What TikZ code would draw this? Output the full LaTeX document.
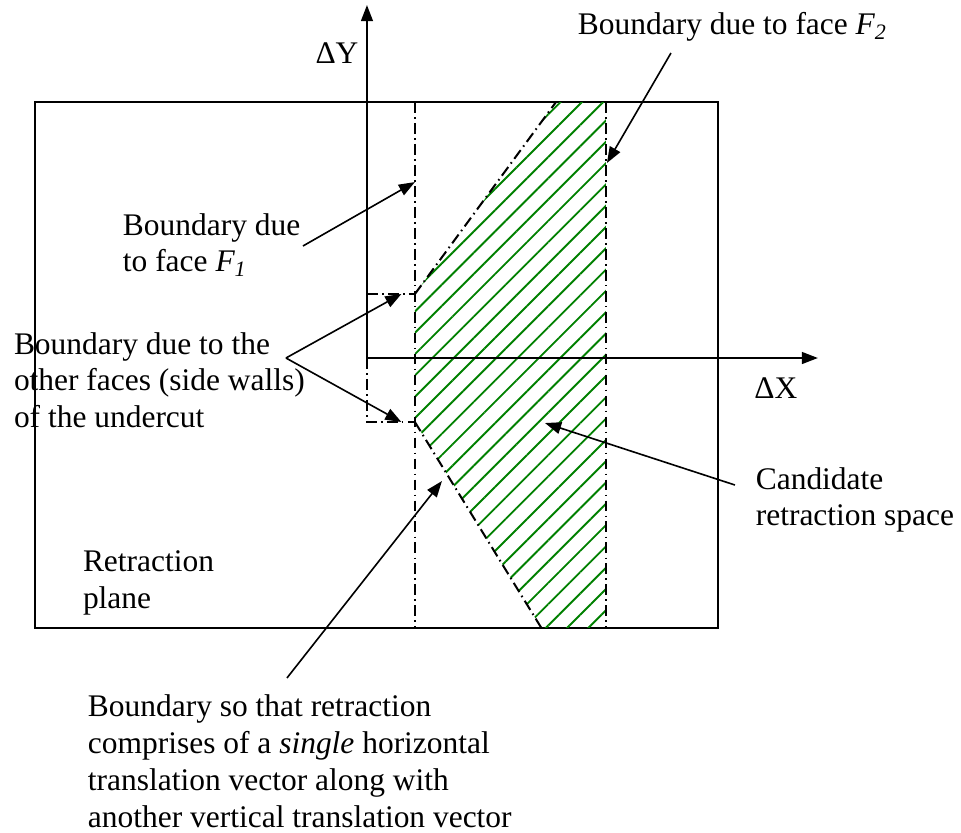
\documentclass[tikz,border=0pt]{standalone}
\usepackage{fontspec}
\setmainfont{Liberation Serif}
\usepackage{tikz}
\usetikzlibrary{arrows.meta,patterns.meta}
\definecolor{hatchgreen}{RGB}{0,128,0}
\tikzset{
	txt/.style={anchor=west, align=left, inner sep=0pt},
	ptr/.style={-{Triangle[length=6pt,width=4.4pt]}, line width=0.6pt},
	dashdot/.style={line width=0.75pt, dash pattern=on 4pt off 1.6pt on 0.6pt off 1.6pt},
	hatch/.style={pattern={Lines[angle=45,distance=5.6pt,line width=0.7pt]}, pattern color=hatchgreen}
}

\begin{document}
\begin{tikzpicture}[>=Stealth, font=\fontsize{11.7}{13.7}\selectfont, line width=0.75pt]
		\useasboundingbox (-4.797,-6.209) rectangle (7.765,4.680);
		% retraction plane
		\draw (-4.34,-3.529) rectangle (4.588,3.346);
		\coordinate (o) at (0,0);
		\coordinate (up) at (0.627,0.837);
		\coordinate (dn) at (0.627,-0.837);
		\coordinate (ut) at (2.471,3.346);
		\coordinate (db) at (2.28,-3.529);
		% candidate region
		\fill[hatch] (up) -- (ut) -- (3.124,3.346) -- (3.124,-3.529) -- (db) -- (dn) -- cycle;
		% boundaries
		\draw[dashdot] (0.627,3.346) -- (0.627,-3.529);
		\draw[dashdot] (3.124,3.346) -- (3.124,-3.529);
		\draw[dashdot] (up) -- (ut);
		\draw[dashdot] (dn) -- (db);
		\draw[dashdot] (0,0.837) -- (up);
		\draw[dashdot] (o) -- (0,-0.837) -- (dn);
		% axes
		\draw[ptr, line width=0.75pt] (o) -- (0,4.614);
		\draw[ptr, line width=0.75pt] (o) -- (5.895,0);
		\node (dy) at (-0.392,3.987) {ΔY};
		\node (dx) at (5.346,-0.392) {ΔX};
		% labels
		\node[txt] (f2) at (2.745,4.327) {Boundary due to face \textit{F\textsubscript{2}}};
		\node[txt] (f1) at (-3.203,1.477) {Boundary due\\to face \textit{F\textsubscript{1}}};
		\node[txt] (side) at (-4.627,-0.29) {Boundary due to the\\other faces (side walls)\\of the undercut};
		\node[txt] (cand) at (5.07,-1.856) {Candidate\\retraction space};
		\node[txt] (plane) at (-3.725,-2.94) {Retraction\\plane};
		\node[txt] (single) at (-3.66,-5.27) {Boundary so that retraction\\comprises of a \textit{single} horizontal\\translation vector along with\\another vertical translation vector};
		% pointers
		\coordinate (f2s) at (3.974,3.987);
		\coordinate (f2e) at (3.137,2.549);
		\coordinate (f1s) at (-0.837,1.464);
		\coordinate (f1e) at (0.627,2.30);
		\coordinate (sides) at (-1.059,0);
		\coordinate (candS) at (4.81,-1.66);
		\coordinate (candE) at (2.327,-0.850);
		\coordinate (singS) at (-1.046,-4.183);
		\coordinate (singE) at (0.980,-1.608);
		\draw[ptr] (f2s) -- (f2e);
		\draw[ptr] (f1s) -- (f1e);
		\draw[ptr] (sides) -- (0.45,0.837);
		\draw[ptr] (sides) -- (0.45,-0.837);
		\draw[ptr] (candS) -- (candE);
		\draw[ptr] (singS) -- (singE);
	\end{tikzpicture}
\end{document}
